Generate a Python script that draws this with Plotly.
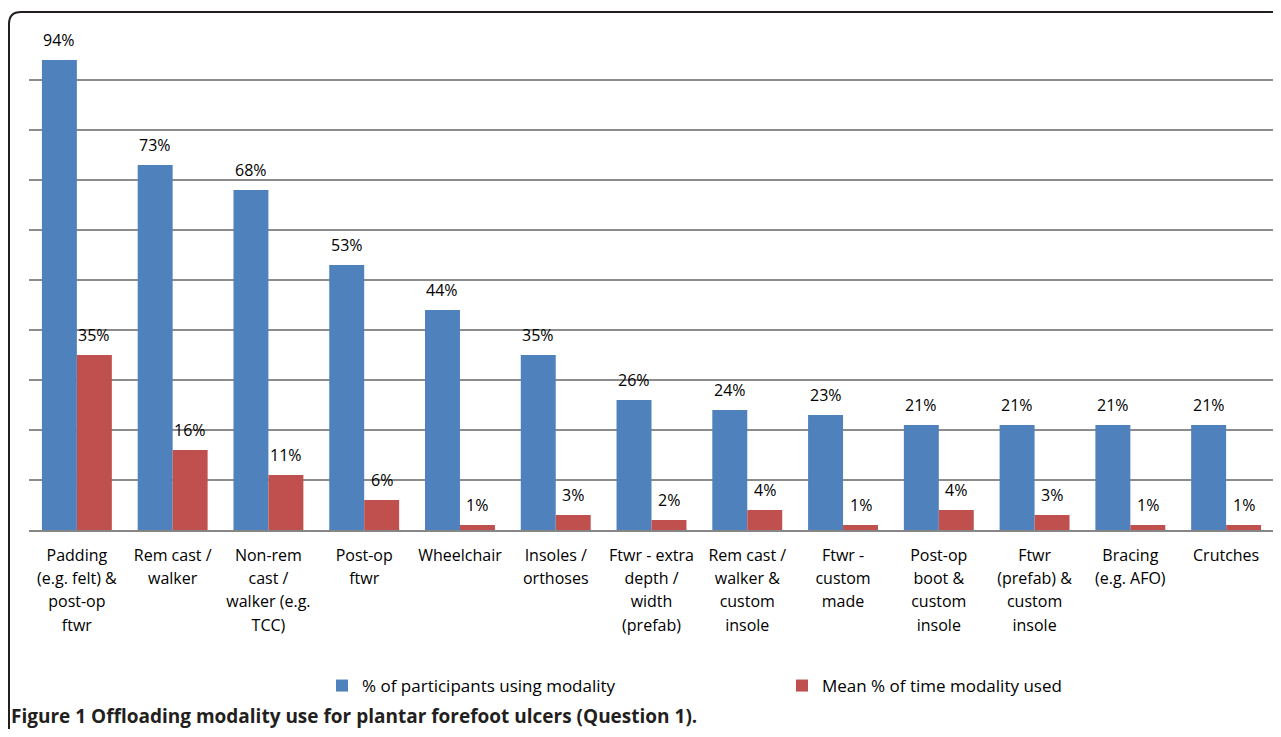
import plotly.graph_objects as go

categories = [
    "Padding<br>(e.g. felt) &<br>post-op<br>ftwr",
    "Rem cast /<br>walker",
    "Non-rem<br>cast /<br>walker (e.g.<br>TCC)",
    "Post-op<br>ftwr",
    "Wheelchair",
    "Insoles /<br>orthoses",
    "Ftwr - extra<br>depth /<br>width<br>(prefab)",
    "Rem cast /<br>walker &<br>custom<br>insole",
    "Ftwr -<br>custom<br>made",
    "Post-op<br>boot &<br>custom<br>insole",
    "Ftwr<br>(prefab) &<br>custom<br>insole",
    "Bracing<br>(e.g. AFO)",
    "Crutches",
]
participants = [94, 73, 68, 53, 44, 35, 26, 24, 23, 21, 21, 21, 21]
mean_time = [35, 16, 11, 6, 1, 3, 2, 4, 1, 4, 3, 1, 1]
series_names = ["% of participants using modality", "Mean % of time modality used"]
caption = "<b>Figure 1 Offloading modality use for plantar forefoot ulcers (Question 1).</b>"

BLUE = "#4F81BD"
RED = "#C0504D"
FONT = "Open Sans"

# tick text: larger base size for line spacing, glyphs drawn at 16px
ticktext = ["<br>".join(f"<span style='font-size:16px'>{ln}</span>" for ln in c.split("<br>"))
            for c in categories]

fig = go.Figure()
fig.add_trace(go.Bar(x=categories, y=participants, name=series_names[0],
                     marker=dict(color=BLUE, line=dict(width=0))))
fig.add_trace(go.Bar(x=categories, y=mean_time, name=series_names[1],
                     marker=dict(color=RED, line=dict(width=0))))

annotations = []
for c, v in zip(categories, participants):
    annotations.append(dict(x=c, y=v, text=f"{v}%", showarrow=False, xshift=-17.5,
                            yshift=20, font=dict(family=FONT, size=16, color="black")))
for c, v in zip(categories, mean_time):
    annotations.append(dict(x=c, y=v, text=f"{v}%", showarrow=False, xshift=17.5,
                            yshift=20, font=dict(family=FONT, size=16, color="black")))

# page pixel -> paper coords (plot area spans x 29..1274, y 30..530 on the page)
W, H = 1245.0, 500.0
def px(x):
    return (x - 29) / W
def py(y):
    return (530 - y) / H

annotations.append(dict(xref="paper", yref="paper", x=px(9), y=py(716), xanchor="left",
                        yanchor="middle", text=caption, showarrow=False,
                        font=dict(family="Open Sans", size=19, color="#231f20")))

r = 12
path = (f"M {px(9)},{py(760)} L {px(9)},{py(12 + r)} "
        f"Q {px(9)},{py(12)} {px(9 + r)},{py(12)} "
        f"L {px(1295)},{py(12)}")

fig.update_layout(
    width=1273, height=721,
    margin=dict(l=21, r=7, t=22, b=199, autoexpand=False),
    paper_bgcolor="white", plot_bgcolor="white",
    barmode="group", bargap=0.27, bargroupgap=0,
    font=dict(family=FONT, size=16, color="black"),
    showlegend=True,
    legend=dict(orientation="h", x=px(322), y=py(686), xanchor="left", yanchor="middle",
                font=dict(family=FONT, size=17, color="black"),
                entrywidth=415),
    xaxis=dict(showgrid=False, tickfont=dict(family=FONT, size=18, color="black"),
               tickmode="array", tickvals=categories, ticktext=ticktext,
               ticklabelstandoff=7,
               showline=True, linecolor="#868686", linewidth=2, ticks=""),
    yaxis=dict(range=[0, 100], dtick=10, showticklabels=False, showgrid=True,
               gridcolor="#8c8c8c", gridwidth=1.5, zeroline=False, showline=False),
    annotations=annotations,
    shapes=[dict(type="path", path=path, xref="paper", yref="paper",
                 line=dict(color="#231f20", width=2), layer="above")],
)

fig.write_html("out.html")
